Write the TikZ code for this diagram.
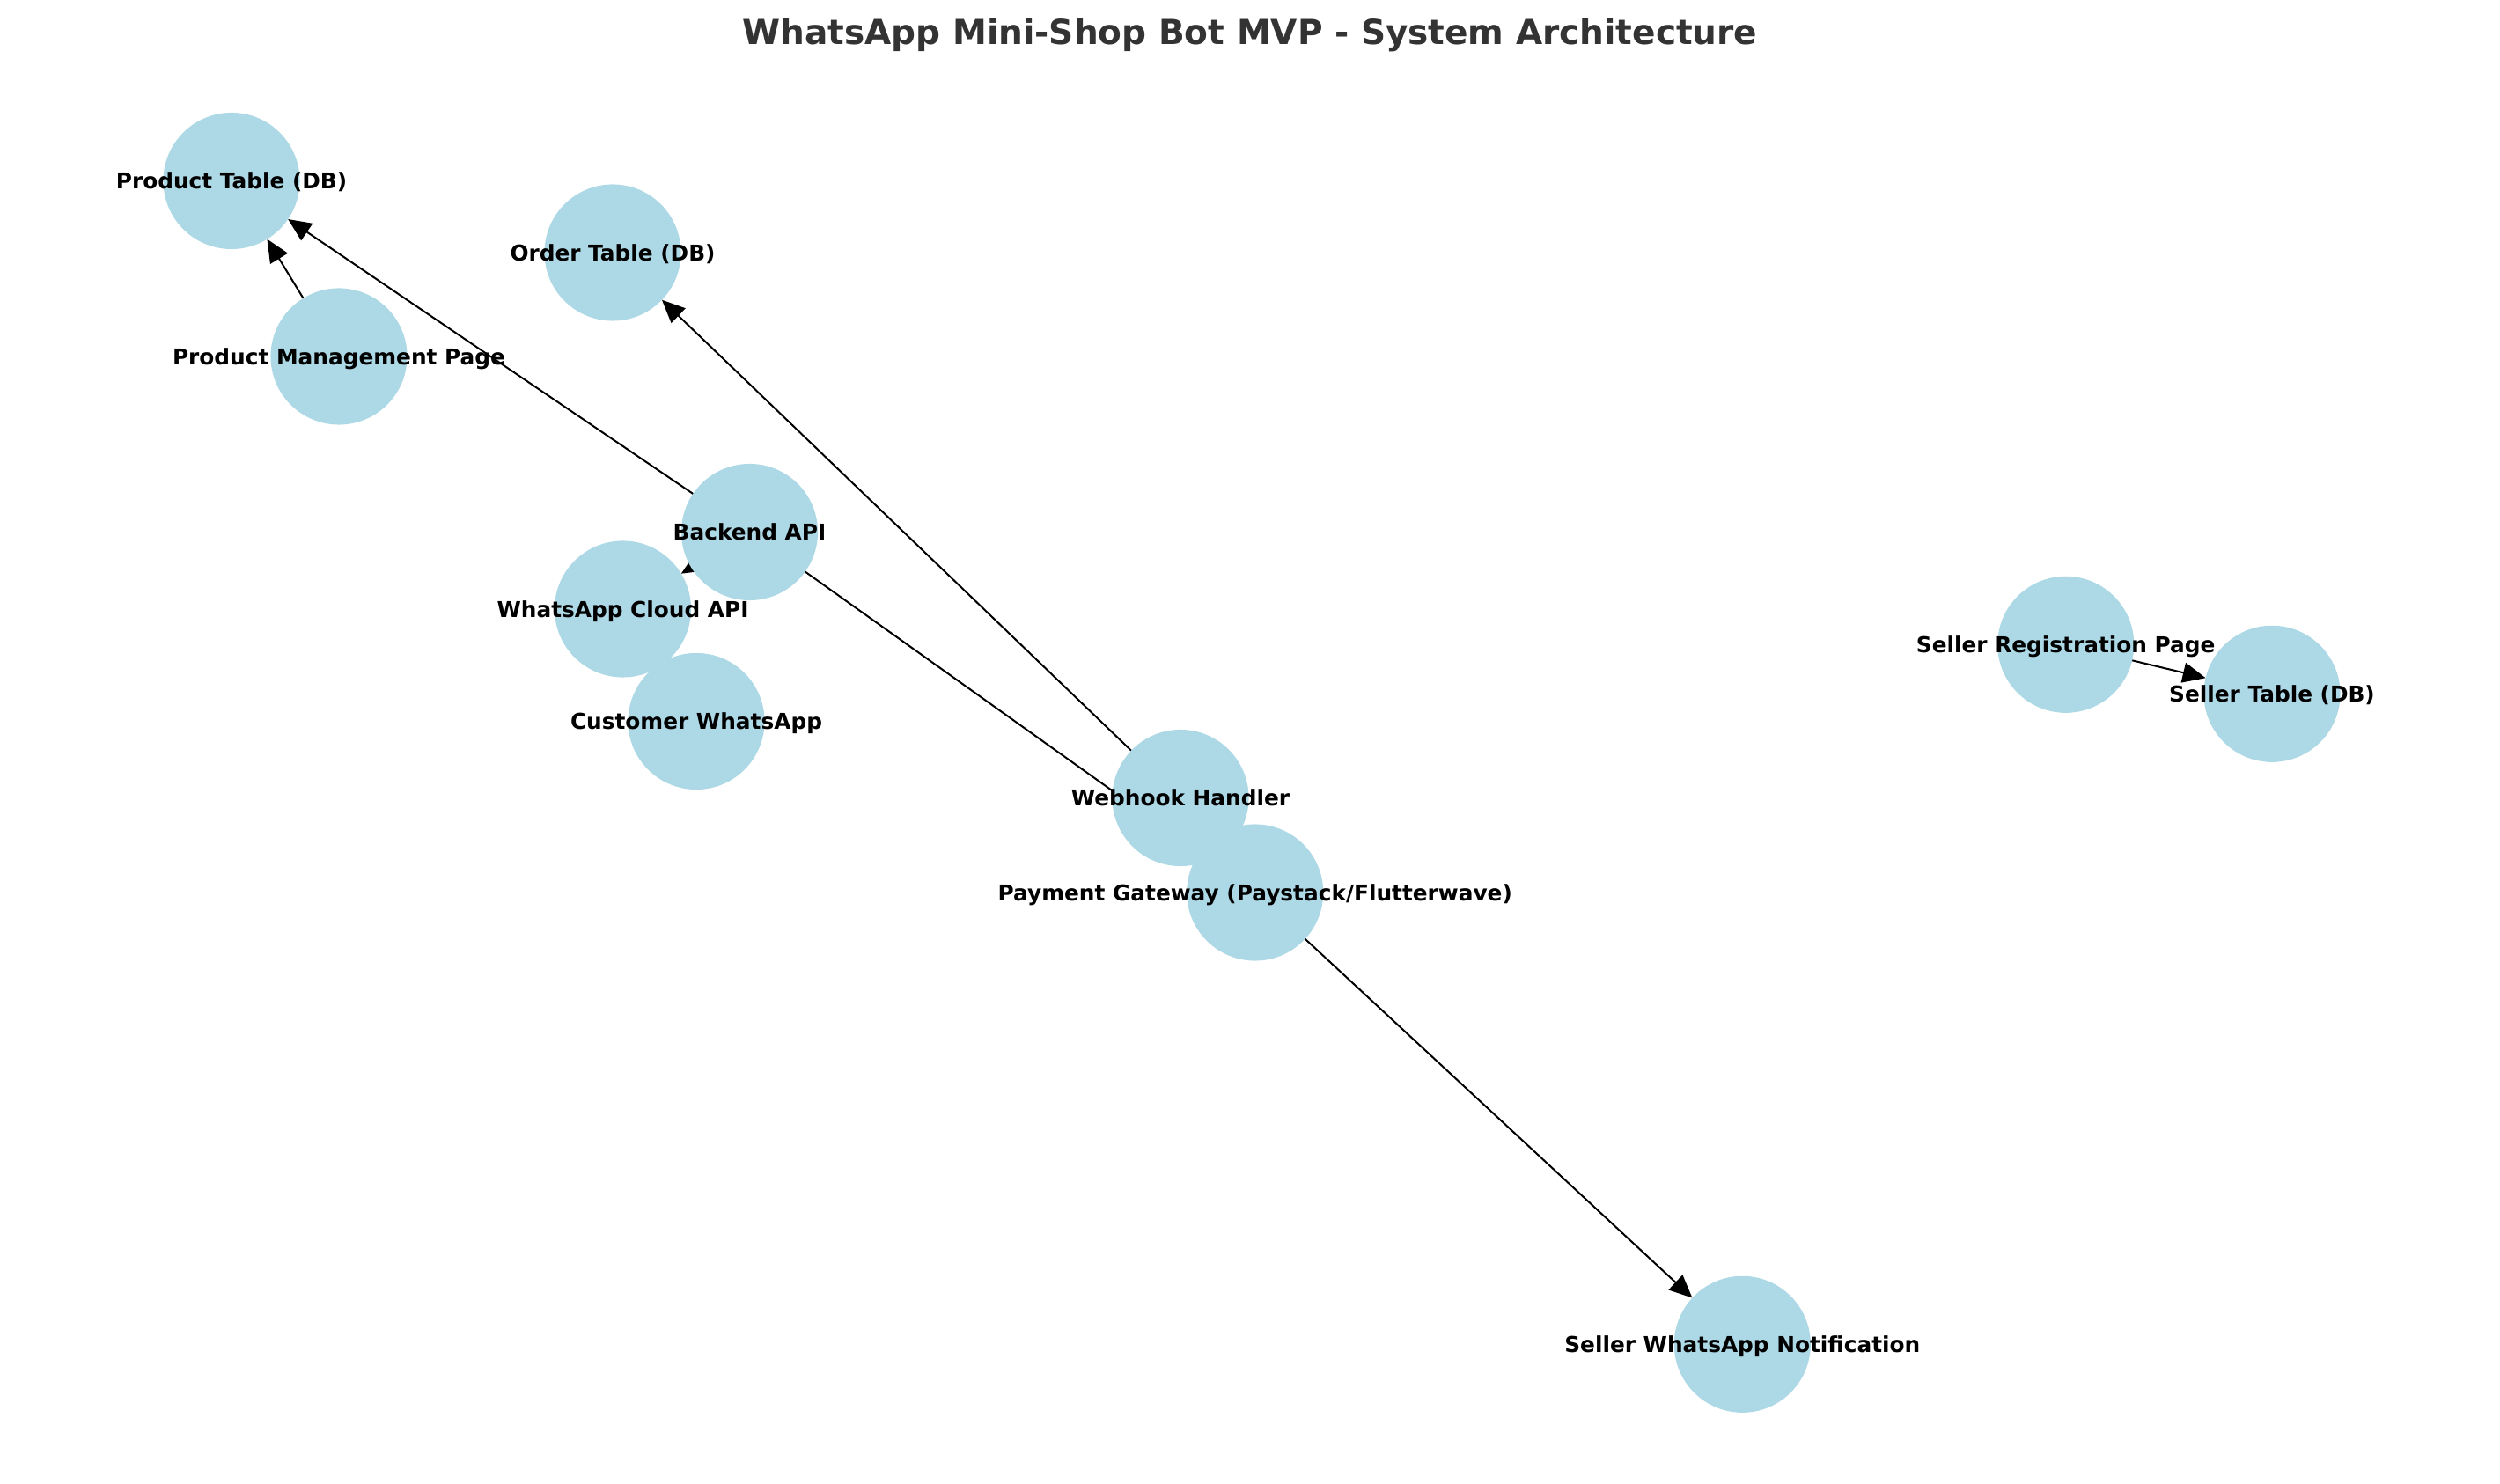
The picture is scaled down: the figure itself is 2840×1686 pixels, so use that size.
\documentclass[tikz,border=0pt]{standalone}
\usepackage{fontspec}
\setmainfont{DejaVu Sans}
\usetikzlibrary{arrows.meta}
\definecolor{nodeblue}{HTML}{ADD8E6}
\definecolor{titlegray}{HTML}{333333}
\pgfdeclarelayer{paper}
\pgfdeclarelayer{background}
\pgfsetlayers{paper,background,main}
\begin{document}
\begin{tikzpicture}[x=0.01cm,y=-0.01cm,
  dot/.style={circle, fill=nodeblue, draw=none, minimum size=1.55cm, inner sep=0pt, outer sep=0pt},
  lbl/.style={inner sep=0pt, font=\fontsize{7.05pt}{8pt}\selectfont\bfseries, text=black, text height=0.76em, text depth=0.244em},
  edge/.style={-{Triangle[length=0.26cm,width=0.23cm]}, line width=0.57pt, black}]
\useasboundingbox (0,0) rectangle (2840,1686);
\begin{pgfonlayer}{paper}
\fill[white] (0,0) rectangle (2840,1686);
\end{pgfonlayer}
% title
\node[anchor=base, inner sep=0pt, text=titlegray, font=\fontsize{11.1pt}{13pt}\selectfont\bfseries] (title) at (1420,50.7) {WhatsApp Mini-Shop Bot MVP - System Architecture};
% circles
\node[dot] (product) at (263,205.5) {};
\node[dot] (order) at (696,287) {};
\node[dot] (pm) at (385,405) {};
\node[dot] (backend) at (851.5,604.5) {};
\node[dot] (cloud) at (707.5,692) {};
\node[dot] (customer) at (791,819.5) {};
\node[dot] (webhook) at (1341,906.5) {};
\node[dot] (payment) at (1425.7,1014) {};
\node[dot] (sellerreg) at (2346.7,732.3) {};
\node[dot] (sellertable) at (2581,788.3) {};
\node[dot] (notif) at (1979.3,1527.3) {};
% labels
\node[lbl] (lproduct) at (product.center) {Product Table (DB)};
\node[lbl] (lorder) at (order.center) {Order Table (DB)};
\node[lbl] (lpm) at (pm.center) {Product Management Page};
\node[lbl] (lbackend) at (backend.center) {Backend API};
\node[lbl] (lcloud) at (cloud.center) {WhatsApp Cloud API};
\node[lbl] (lcustomer) at (customer.center) {Customer WhatsApp};
\node[lbl] (lwebhook) at (webhook.center) {Webhook Handler};
\node[lbl] (lpayment) at (payment.center) {Payment Gateway (Paystack/Flutterwave)};
\node[lbl] (lsellerreg) at (sellerreg.center) {Seller Registration Page};
\node[lbl] (lsellertable) at (sellertable.center) {Seller Table (DB)};
\node[lbl] (lnotif) at (notif.center) {Seller WhatsApp Notification};
% edges
\begin{pgfonlayer}{background}
\draw[edge] (pm) -- (product);
\draw[edge] (backend) -- (product);
\draw[edge] (webhook) -- (order);
\draw[edge] (backend) -- (cloud);
\draw[edge] (backend) -- (payment);
\draw[edge] (payment) -- (notif);
\draw[edge] (sellerreg) -- (sellertable);
\end{pgfonlayer}
\end{tikzpicture}
\end{document}
